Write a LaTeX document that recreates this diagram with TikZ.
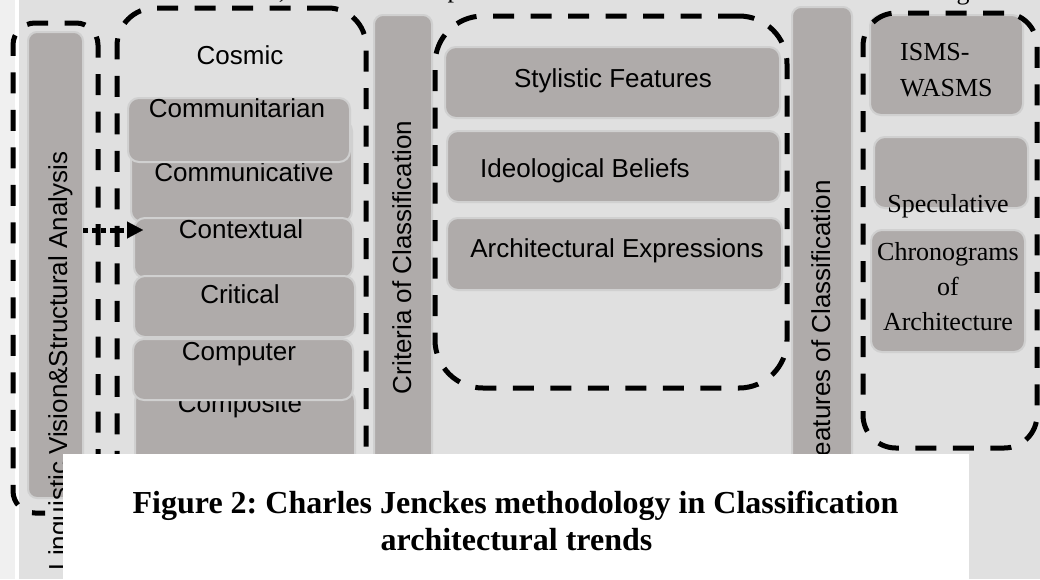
\documentclass[tikz,border=0pt]{standalone}
\usepackage{fontspec}
\setmainfont{Liberation Serif}
\newfontfamily\arialf{Liberation Sans}
\usetikzlibrary{arrows.meta}
\frenchspacing
\definecolor{bgc}{RGB}{224,224,224}
\definecolor{stripc}{RGB}{240,240,240}
\definecolor{boxc}{RGB}{175,171,170}
\definecolor{edgec}{RGB}{208,208,208}
\newcommand\gbx[5]{\node[gbox,minimum width={#4-#2},minimum height={#5-#3}] (#1) at ({(#2+#4)/2},{(#3+#5)/2}) {};}
\begin{document}
\begin{tikzpicture}[x=1pt,y=-1pt,
  gbox/.style={draw=edgec,fill=boxc,line width=2pt,rounded corners=11pt,inner sep=0pt,outer sep=0pt},
  bar/.style={gbox,rounded corners=9pt},
  dbox/.style={draw=black,line width=5pt,dash pattern=on 21pt off 16.5pt,inner sep=0pt,outer sep=0pt},
  sans/.style={font=\arialf\fontsize{26}{30}\selectfont,inner sep=0pt},
  serif/.style={font=\fontsize{26}{35}\selectfont,inner sep=0pt},
  captxt/.style={font=\bfseries\fontsize{32}{36}\selectfont,inner sep=0pt},
  dotarrow/.style={line width=5pt,dash pattern=on 5pt off 4pt,-{Triangle[length=16pt,width=17pt,line width=0.1pt]}}
]
\useasboundingbox (0,0) rectangle (1040,579);
\fill[bgc] (0,0) rectangle (1040,579);
\fill[stripc] (0,0) rectangle (15,579);
\fill[white] (15,0) rectangle (19,579);

% fragments of the line above
\node[serif,anchor=base] (fragc) at (282,-2) {,};
\node[serif,anchor=base] (fragp) at (454,-3) {p};
\node[serif,anchor=base] (fragg) at (963,-1) {g};

% vertical bars
\node[bar,minimum width=55,minimum height=466] (lvb) at (55.5,265) {};
\node[bar,minimum width=58,minimum height=460] (crb) at (403,245) {};
\node[bar,minimum width=60,minimum height=470] (feb) at (822,242) {};

% Cosmic group
\node[sans,anchor=base] (cost) at (240,64.5) {Cosmic};
\gbx{cmvb}{131}{120}{352}{222}
\node[sans,anchor=base] (cmvt) at (244,181) {Communicative};
\gbx{cmtb}{128}{98}{350}{162}
\node[sans,anchor=base] (cmtt) at (237,117) {Communitarian};
\gbx{ctxb}{134}{218}{353}{278}
\node[sans,anchor=base] (ctxt) at (241,238) {Contextual};
\gbx{crtb}{134}{276}{355}{337}
\node[sans,anchor=base] (crtt) at (240,303) {Critical};
\gbx{cpsb}{135}{390}{355}{475}
\node[sans,anchor=base] (cpst) at (240,412) {Composite};
\gbx{cptb}{133}{339}{353}{400}
\node[sans,anchor=base] (cptt) at (239,360) {Computer};

% Stylistic group
\gbx{sfb}{445}{47}{780}{118}
\node[sans,anchor=base] (sft) at (613,87) {Stylistic Features};
\gbx{ibb}{447}{131}{780}{202}
\node[sans,anchor=base] (ibt) at (585,177) {Ideological Beliefs};
\gbx{aeb}{447}{218}{782}{290}
\node[sans,anchor=base] (aet) at (617,257) {Architectural Expressions};

% right group
\gbx{isb}{870}{15}{1023}{115}
\node[serif,anchor=base west] (ist1) at (900,60) {ISMS-};
\node[serif,anchor=base west] (ist2) at (900,96) {WASMS};
\gbx{spb}{874}{137}{1028}{208}
\node[serif,anchor=base] (spt) at (948,212) {Speculative};
\gbx{chb}{871}{230}{1025}{352}
\node[serif,anchor=base] (cht1) at (948,260) {Chronograms};
\node[serif,anchor=base] (cht2) at (948,295) {of};
\node[serif,anchor=base] (cht3) at (948,330) {Architecture};

% rotated bar labels
\node[sans,rotate=90,anchor=base] (lvt) at (67,361) {Linguistic Vision\&Structural Analysis};
\node[sans,rotate=90,anchor=base] (crt) at (411,257.5) {Criteria of Classification};
\node[sans,rotate=90,anchor=base] (fet) at (830,326) {Features of Classification};

% dashed groups
\draw[dbox,rounded corners=22pt] (98,470) -- (98,23) -- (13,23) -- (13,513) -- (45,513);
\node[dbox,rounded corners=38pt,minimum width=249,minimum height=520] (g2) at (241.5,268) {};
\node[dbox,rounded corners=48pt,minimum width=352,minimum height=372] (g3) at (611,202) {};
\node[dbox,rounded corners=33pt,minimum width=174,minimum height=435] (g4) at (950,230.5) {};

% arrow
\coordinate (atip) at (143,230);
\draw[dotarrow] (lvb.east |- atip) -- (atip);

% caption
\node[fill=white,inner sep=0pt,outer sep=0pt,minimum width=906,minimum height=125,anchor=north west] (capbox) at (63,454) {};
\node[captxt,anchor=base] (cap1) at (515.5,513) {Figure 2: Charles Jenckes methodology in Classification};
\node[captxt,anchor=base] (cap2) at (516.5,550) {architectural trends};
\end{tikzpicture}
\end{document}
